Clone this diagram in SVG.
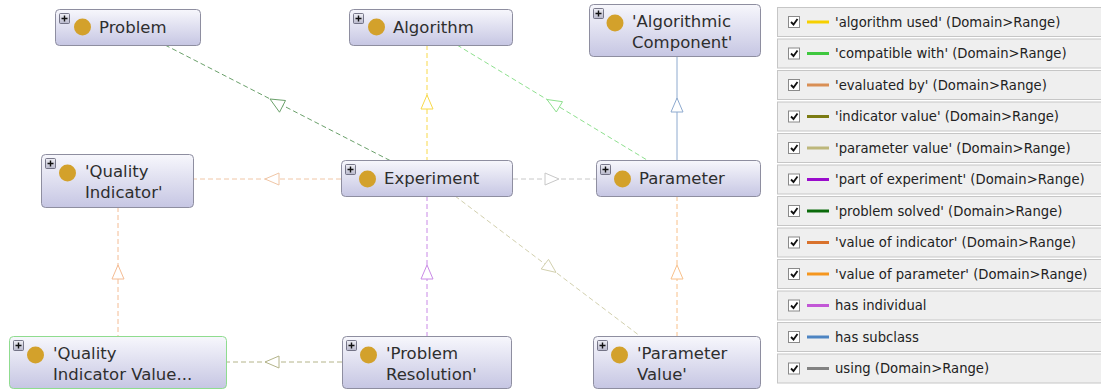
<svg xmlns="http://www.w3.org/2000/svg" width="1101" height="390" viewBox="0 0 1101 390">
<style>
.nb{fill:url(#ng);stroke:#8e8ea0;stroke-width:1}
.nt{font-family:"DejaVu Sans","Liberation Sans",sans-serif;font-size:16.5px;fill:#2e2e2e}
.dot{fill:#d3a12b}
.pb{fill:url(#pg);stroke:#5a5a6e;stroke-width:0.8}
.pl{stroke:#111;stroke-width:1.4}
.e{fill:none;stroke-width:1;stroke-dasharray:5 3}
.ah{fill:#fff;stroke-width:1}
.lr{fill:#efefef;stroke:#c6c6c6;stroke-width:1}
.lt{font-family:"DejaVu Sans","Liberation Sans",sans-serif;font-size:13.2px;fill:#222}
.cb{fill:#fff;stroke:#8a8a8a;stroke-width:1}
.ck{fill:none;stroke:#111;stroke-width:1.8}
.ll{stroke-width:3}
</style>
<defs>
<linearGradient id="ng" x1="0" y1="0" x2="0" y2="1">
<stop offset="0" stop-color="#f7f7fc"/>
<stop offset="1" stop-color="#c6c6e3"/>
</linearGradient>
<linearGradient id="pg" x1="0" y1="0" x2="0" y2="1">
<stop offset="0" stop-color="#f0f0f6"/>
<stop offset="1" stop-color="#b8b8cc"/>
</linearGradient>
</defs>
<rect width="1101" height="390" fill="#fff"/>
<g id="connectors">
<!-- problem solved -->
<path class="e" d="M165,45 L391,161" stroke="#6aa06a"/>
<polygon class="ah" points="270,99 285.5,100.5 279.5,112.2" stroke="#6aa06a"/>
<!-- algorithm used -->
<path class="e" d="M427,45 L427,160" stroke="#f8d94a"/>
<polygon class="ah" points="427,95 421,109 433,109" stroke="#f8d94a"/>
<!-- has subclass -->
<path d="M677,57 L677,160" stroke="#8eaacf" stroke-width="1" fill="none"/>
<polygon class="ah" points="677,98 671,112 683,112" stroke="#8eaacf"/>
<!-- compatible with -->
<path class="e" d="M457,45 L647,160" stroke="#8ee08e"/>
<polygon class="ah" points="547,99.5 562.5,101.7 556.3,112" stroke="#8ee08e"/>
<!-- using -->
<path class="e" d="M513,179 L596,179" stroke="#c8c8c8"/>
<polygon class="ah" points="559,179 545,173 545,185" stroke="#c8c8c8"/>
<!-- evaluated by -->
<path class="e" d="M341,179 L193,179" stroke="#f0c6a6"/>
<polygon class="ah" points="265,179 279,173 279,185" stroke="#f0c6a6"/>
<!-- value of indicator -->
<path class="e" d="M118,207 L118,336" stroke="#f4bc94"/>
<polygon class="ah" points="118,265 112,279 124,279" stroke="#f4bc94"/>
<!-- indicator value -->
<path class="e" d="M342,362 L227,362" stroke="#b4b48a"/>
<polygon class="ah" points="265,362 279,356 279,368" stroke="#b4b48a"/>
<!-- part of experiment -->
<path class="e" d="M427,196 L427,336" stroke="#c98ae6"/>
<polygon class="ah" points="427,265 421,279 433,279" stroke="#c98ae6"/>
<!-- parameter value -->
<path class="e" d="M455,196 L640,336" stroke="#d2d0ae"/>
<polygon class="ah" points="556,272.4 548.5,259.4 541.2,269" stroke="#d2d0ae"/>
<!-- value of parameter -->
<path class="e" d="M677,196 L677,336" stroke="#f8c08a"/>
<polygon class="ah" points="677,265 671,279 683,279" stroke="#f8c08a"/>
</g>
<g id="node-problem">
<rect class="nb" x="55.5" y="9.5" width="145" height="36" rx="4"/>
<rect class="pb" x="59.5" y="13.5" width="10" height="10" rx="1"/>
<path class="pl" d="M61.5,18.5 H67.5 M64.5,15.5 V21.5"/>
<circle class="dot" cx="82.5" cy="27" r="8.5"/>
<text class="nt" x="99" y="33">Problem</text>
</g>
<g id="node-algorithm">
<rect class="nb" x="349.5" y="9.5" width="163" height="36" rx="4"/>
<rect class="pb" x="353.5" y="13.5" width="10" height="10" rx="1"/>
<path class="pl" d="M355.5,18.5 H361.5 M358.5,15.5 V21.5"/>
<circle class="dot" cx="376.5" cy="27" r="8.5"/>
<text class="nt" x="393" y="33">Algorithm</text>
</g>
<g id="node-algorithmic-component">
<rect class="nb" x="589.5" y="4.5" width="171" height="52" rx="4"/>
<rect class="pb" x="593.5" y="8.5" width="10" height="10" rx="1"/>
<path class="pl" d="M595.5,13.5 H601.5 M598.5,10.5 V16.5"/>
<circle class="dot" cx="615" cy="23" r="8.5"/>
<text class="nt" x="632" y="27">'Algorithmic</text>
<text class="nt" x="632" y="48">Component'</text>
</g>
<g id="node-quality-indicator">
<rect class="nb" x="41.5" y="154.5" width="152" height="53" rx="4"/>
<rect class="pb" x="45.5" y="158.5" width="10" height="10" rx="1"/>
<path class="pl" d="M47.5,163.5 H53.5 M50.5,160.5 V166.5"/>
<circle class="dot" cx="67.5" cy="173" r="8.5"/>
<text class="nt" x="85" y="177">'Quality</text>
<text class="nt" x="85" y="198">Indicator'</text>
</g>
<g id="node-experiment">
<rect class="nb" x="341.5" y="160.5" width="171" height="36" rx="4"/>
<rect class="pb" x="345.5" y="164.5" width="10" height="10" rx="1"/>
<path class="pl" d="M347.5,169.5 H353.5 M350.5,166.5 V172.5"/>
<circle class="dot" cx="367.5" cy="179" r="8.5"/>
<text class="nt" x="384" y="184">Experiment</text>
</g>
<g id="node-parameter">
<rect class="nb" x="596.5" y="160.5" width="164" height="36" rx="4"/>
<rect class="pb" x="600.5" y="164.5" width="10" height="10" rx="1"/>
<path class="pl" d="M602.5,169.5 H608.5 M605.5,166.5 V172.5"/>
<circle class="dot" cx="622.5" cy="179" r="8.5"/>
<text class="nt" x="639" y="184">Parameter</text>
</g>
<g id="node-quality-indicator-value">
<rect class="nb" x="9.5" y="336.5" width="217" height="52" rx="4" style="stroke:#8fdc8f"/>
<rect class="pb" x="13.5" y="340.5" width="10" height="10" rx="1"/>
<path class="pl" d="M15.5,345.5 H21.5 M18.5,342.5 V348.5"/>
<circle class="dot" cx="35.5" cy="355" r="8.5"/>
<text class="nt" x="53" y="359">'Quality</text>
<text class="nt" x="53" y="380">Indicator Value...</text>
</g>
<g id="node-problem-resolution">
<rect class="nb" x="342.5" y="336.5" width="169" height="52" rx="4"/>
<rect class="pb" x="346.5" y="340.5" width="10" height="10" rx="1"/>
<path class="pl" d="M348.5,345.5 H354.5 M351.5,342.5 V348.5"/>
<circle class="dot" cx="368.5" cy="355" r="8.5"/>
<text class="nt" x="386" y="359">'Problem</text>
<text class="nt" x="386" y="380">Resolution'</text>
</g>
<g id="node-parameter-value">
<rect class="nb" x="593.5" y="336.5" width="167" height="52" rx="4"/>
<rect class="pb" x="597.5" y="340.5" width="10" height="10" rx="1"/>
<path class="pl" d="M599.5,345.5 H605.5 M602.5,342.5 V348.5"/>
<circle class="dot" cx="619.5" cy="355" r="8.5"/>
<text class="nt" x="637" y="359">'Parameter</text>
<text class="nt" x="637" y="380">Value'</text>
</g>
<g id="legend">
<g transform="translate(0,7)">
<rect class="lr" x="777.5" y="0.5" width="330" height="29"/>
<rect class="cb" x="788.5" y="9.5" width="11" height="11"/><path class="ck" d="M791,15 L793.5,17.5 L797.5,12"/>
<line class="ll" x1="807" y1="15" x2="829" y2="15" stroke="#f6d000"/>
<text class="lt" x="835" y="19.5">'algorithm used' (Domain&gt;Range)</text>
</g>
<g transform="translate(0,38.5)">
<rect class="lr" x="777.5" y="0.5" width="330" height="29"/>
<rect class="cb" x="788.5" y="9.5" width="11" height="11"/><path class="ck" d="M791,15 L793.5,17.5 L797.5,12"/>
<line class="ll" x1="807" y1="15" x2="829" y2="15" stroke="#3fc83f"/>
<text class="lt" x="835" y="19.5">'compatible with' (Domain&gt;Range)</text>
</g>
<g transform="translate(0,70)">
<rect class="lr" x="777.5" y="0.5" width="330" height="29"/>
<rect class="cb" x="788.5" y="9.5" width="11" height="11"/><path class="ck" d="M791,15 L793.5,17.5 L797.5,12"/>
<line class="ll" x1="807" y1="15" x2="829" y2="15" stroke="#d98f55"/>
<text class="lt" x="835" y="19.5">'evaluated by' (Domain&gt;Range)</text>
</g>
<g transform="translate(0,101.5)">
<rect class="lr" x="777.5" y="0.5" width="330" height="29"/>
<rect class="cb" x="788.5" y="9.5" width="11" height="11"/><path class="ck" d="M791,15 L793.5,17.5 L797.5,12"/>
<line class="ll" x1="807" y1="15" x2="829" y2="15" stroke="#7b7b12"/>
<text class="lt" x="835" y="19.5">'indicator value' (Domain&gt;Range)</text>
</g>
<g transform="translate(0,133)">
<rect class="lr" x="777.5" y="0.5" width="330" height="29"/>
<rect class="cb" x="788.5" y="9.5" width="11" height="11"/><path class="ck" d="M791,15 L793.5,17.5 L797.5,12"/>
<line class="ll" x1="807" y1="15" x2="829" y2="15" stroke="#bdb77b"/>
<text class="lt" x="835" y="19.5">'parameter value' (Domain&gt;Range)</text>
</g>
<g transform="translate(0,164.5)">
<rect class="lr" x="777.5" y="0.5" width="330" height="29"/>
<rect class="cb" x="788.5" y="9.5" width="11" height="11"/><path class="ck" d="M791,15 L793.5,17.5 L797.5,12"/>
<line class="ll" x1="807" y1="15" x2="829" y2="15" stroke="#9a0ccc"/>
<text class="lt" x="835" y="19.5">'part of experiment' (Domain&gt;Range)</text>
</g>
<g transform="translate(0,196)">
<rect class="lr" x="777.5" y="0.5" width="330" height="29"/>
<rect class="cb" x="788.5" y="9.5" width="11" height="11"/><path class="ck" d="M791,15 L793.5,17.5 L797.5,12"/>
<line class="ll" x1="807" y1="15" x2="829" y2="15" stroke="#0b6a0b"/>
<text class="lt" x="835" y="19.5">'problem solved' (Domain&gt;Range)</text>
</g>
<g transform="translate(0,227.5)">
<rect class="lr" x="777.5" y="0.5" width="330" height="29"/>
<rect class="cb" x="788.5" y="9.5" width="11" height="11"/><path class="ck" d="M791,15 L793.5,17.5 L797.5,12"/>
<line class="ll" x1="807" y1="15" x2="829" y2="15" stroke="#d9722c"/>
<text class="lt" x="835" y="19.5">'value of indicator' (Domain&gt;Range)</text>
</g>
<g transform="translate(0,259)">
<rect class="lr" x="777.5" y="0.5" width="330" height="29"/>
<rect class="cb" x="788.5" y="9.5" width="11" height="11"/><path class="ck" d="M791,15 L793.5,17.5 L797.5,12"/>
<line class="ll" x1="807" y1="15" x2="829" y2="15" stroke="#f5961e"/>
<text class="lt" x="835" y="19.5">'value of parameter' (Domain&gt;Range)</text>
</g>
<g transform="translate(0,290.5)">
<rect class="lr" x="777.5" y="0.5" width="330" height="29"/>
<rect class="cb" x="788.5" y="9.5" width="11" height="11"/><path class="ck" d="M791,15 L793.5,17.5 L797.5,12"/>
<line class="ll" x1="807" y1="15" x2="829" y2="15" stroke="#c257d6"/>
<text class="lt" x="835" y="19.5">has individual</text>
</g>
<g transform="translate(0,322)">
<rect class="lr" x="777.5" y="0.5" width="330" height="29"/>
<rect class="cb" x="788.5" y="9.5" width="11" height="11"/><path class="ck" d="M791,15 L793.5,17.5 L797.5,12"/>
<line class="ll" x1="807" y1="15" x2="829" y2="15" stroke="#4d84c2"/>
<text class="lt" x="835" y="19.5">has subclass</text>
</g>
<g transform="translate(0,353.5)">
<rect class="lr" x="777.5" y="0.5" width="330" height="29"/>
<rect class="cb" x="788.5" y="9.5" width="11" height="11"/><path class="ck" d="M791,15 L793.5,17.5 L797.5,12"/>
<line class="ll" x1="807" y1="15" x2="829" y2="15" stroke="#828282"/>
<text class="lt" x="835" y="19.5">using (Domain&gt;Range)</text>
</g>
</g>
</svg>
